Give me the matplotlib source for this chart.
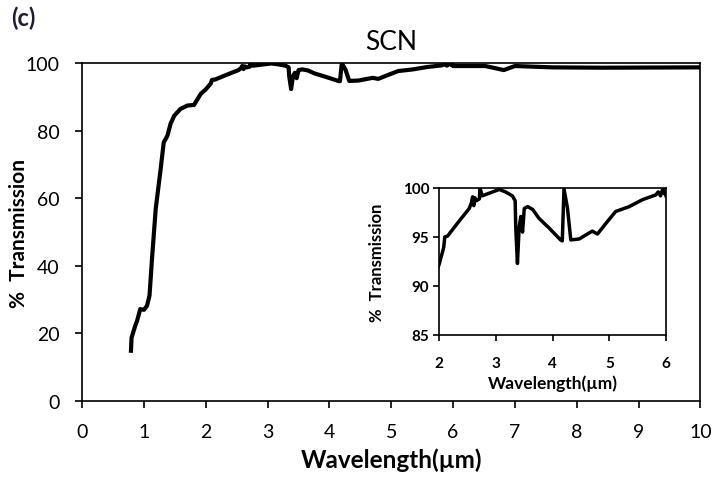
import matplotlib
matplotlib.use("Agg")
import matplotlib.pyplot as plt

plt.rcParams['font.family'] = ['Lato', 'DejaVu Sans']

# transmission spectrum
wavelength = [0.79, 0.80, 0.86, 0.89, 0.94, 1.00, 1.05, 1.09, 1.13, 1.19, 1.27, 1.32,
              1.38, 1.43, 1.49, 1.59, 1.70, 1.81, 1.92, 2.00, 2.08, 2.10, 2.15,
              2.35, 2.53, 2.57, 2.59, 2.61, 2.63, 2.66, 2.71, 2.72, 2.76, 3.06,
              3.17, 3.29, 3.34, 3.35, 3.38, 3.41, 3.44, 3.47, 3.50, 3.56, 3.65,
              3.76, 3.94, 4.14, 4.17, 4.20, 4.26, 4.32, 4.47, 4.64, 4.70, 4.79,
              4.94, 5.11, 5.35, 5.58, 5.82, 5.86, 5.90, 5.94, 5.97, 5.99, 6.00,
              6.52, 6.82, 7.00, 7.60, 8.40, 9.97, 10.0]
transmission = [14.9, 18.8, 22.3, 23.8, 27.2, 27.0, 28.2, 31.2, 42.0, 56.8, 68.6, 76.5,
                78.5, 82.0, 84.4, 86.4, 87.4, 87.6, 90.9, 92.2, 93.9, 95.0, 95.1,
                96.6, 97.9, 98.5, 99.1, 98.2, 99.0, 98.7, 98.9, 100.0, 99.2, 99.85,
                99.6, 99.2, 98.7, 96.0, 92.3, 96.0, 97.1, 95.5, 97.9, 98.1, 97.8,
                96.9, 95.9, 94.7, 94.6, 99.9, 98.0, 94.7, 94.8, 95.4, 95.6, 95.3,
                96.4, 97.6, 98.1, 98.8, 99.3, 99.6, 99.2, 99.9, 99.4, 100.0, 99.1,
                99.1, 97.9, 99.1, 98.7, 98.6, 98.7, 98.7]

main_xticks = list(range(0, 11))
main_yticks = [0, 20, 40, 60, 80, 100]
inset_xticks = [2, 3, 4, 5, 6]
inset_yticks = [85, 90, 95, 100]

fig = plt.figure(figsize=(7.14, 4.81), dpi=100)
ax = fig.add_axes([0.115, 0.164, 0.866, 0.703])
ax.plot(wavelength, transmission, color='black', lw=3.0)
ax.set_xlim(0, 10)
ax.set_ylim(0, 100)
ax.set_xticks(main_xticks)
ax.set_yticks(main_yticks)
ax.tick_params(direction='out', length=5, width=1.2, labelsize=14, pad=11)
for s in ax.spines.values():
    s.set_linewidth(1.2)
ax.set_xlabel('Wavelength(µm)', fontsize=17.5, fontweight='bold', labelpad=5)
ax.set_ylabel('%  Transmission', fontsize=15, fontweight='bold')
ax.yaxis.set_label_coords(-0.086, 0.5)
ax.set_title('SCN', fontsize=19, pad=10)
fig.text(0.015, 0.945, '(c)', fontsize=17, fontweight='bold', color='#1c1c34')

ins = fig.add_axes([0.615, 0.3015, 0.318, 0.3056])
ins.plot(wavelength, transmission, color='black', lw=2.5)
ins.set_xlim(2, 6)
ins.set_ylim(85, 100)
ins.set_xticks(inset_xticks)
ins.set_yticks(inset_yticks)
ins.tick_params(direction='out', length=4, width=1.2, labelsize=11)
ins.tick_params(axis='x', pad=11)
ins.tick_params(axis='y', pad=3)
for lbl in ins.get_xticklabels() + ins.get_yticklabels():
    lbl.set_fontweight('bold')
for s in ins.spines.values():
    s.set_linewidth(1.2)
ins.set_xlabel('Wavelength(µm)', fontsize=12.5, fontweight='bold', labelpad=3)
ins.set_ylabel('%  Transmission', fontsize=12, fontweight='bold')
ins.yaxis.set_label_coords(-0.24, 0.5)

fig.savefig('out.png', dpi=100)
